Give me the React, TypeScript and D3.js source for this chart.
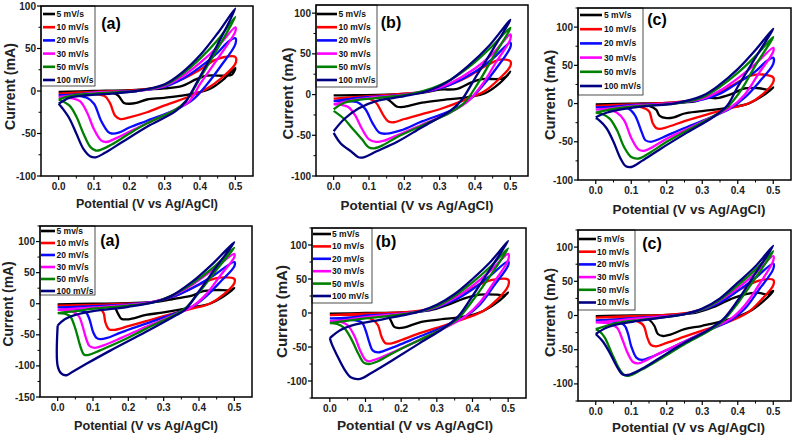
import React from 'react';
import * as d3 from 'd3';

type Pt = [number, number];

// ---------- labels ----------
const legendStd = ['5 mV/s', '10 mV/s', '20 mV/s', '30 mV/s', '50 mV/s', '100 mV/s'];
const legendA2 = ['5 mv/s', '10 mV/s', '20 mV/s', '30 mV/s', '50 mV/s', '100 mV/s'];
const legendC2 = ['5 mV/s', '10 mV/s', '20 mV/s', '30 mV/s', '50 mV/s', '10 mV/s'];
const panelLetters = ['(a)', '(b)', '(c)', '(a)', '(b)', '(c)'];
const seriesColors = ['#000000', '#ff0000', '#0a0aff', '#ff00ff', '#008000', '#000080'];
const xTicks = [0, 0.1, 0.2, 0.3, 0.4, 0.5];
const yTicksStd = [-100, -50, 0, 50, 100];
const yTicksA2 = [-150, -100, -50, 0, 50, 100];
const xTitle = 'Potential (V vs Ag/AgCl)';
const yTitle = 'Current (mA)';

// ---------- data: closed CV loops (E in V, I in mA) ----------
// Panel top (a)
const topA: Pt[][] = [
  [[0,-1],[0.1,0],[0.2,1],[0.3,3],[0.35,6],[0.39,14],[0.42,18],[0.47,18],[0.49,19],[0.5,27],[0.47,15],[0.43,3],[0.38,-3],[0.3,-8],[0.25,-10],[0.22,-14],[0.2,-15],[0.185,-14],[0.17,-6],[0.16,-3],[0.1,-1],[0,-1]],
  [[0,-3],[0.1,-1],[0.22,1],[0.3,6],[0.35,14],[0.4,25],[0.44,36],[0.47,40],[0.5,40],[0.5,32],[0.46,15],[0.42,3],[0.38,-5],[0.3,-17],[0.25,-25],[0.2,-31],[0.175,-33],[0.16,-29],[0.145,-14],[0.13,-6],[0.08,-3],[0,-3]],
  [[0,-5],[0.05,-4],[0.1,-2],[0.22,0],[0.3,5],[0.35,14],[0.4,28],[0.45,45],[0.48,58],[0.5,62],[0.5,55],[0.46,30],[0.42,8],[0.38,-10],[0.33,-22],[0.25,-35],[0.2,-43],[0.17,-49],[0.15,-50],[0.14,-48],[0.12,-35],[0.1,-15],[0.08,-8],[0.04,-5],[0,-5]],
  [[0,-7],[0.05,-5],[0.1,-2],[0.22,0],[0.3,6],[0.35,17],[0.4,33],[0.45,52],[0.5,75],[0.5,70],[0.45,38],[0.4,8],[0.37,-12],[0.33,-22],[0.25,-38],[0.2,-48],[0.16,-56],[0.135,-60],[0.12,-58],[0.1,-45],[0.08,-25],[0.06,-12],[0.03,-8],[0,-7]],
  [[0,-10],[0.03,-6],[0.1,-3],[0.22,0],[0.3,7],[0.35,20],[0.4,38],[0.45,60],[0.5,87],[0.45,50],[0.4,15],[0.36,-12],[0.33,-22],[0.25,-38],[0.2,-50],[0.15,-63],[0.12,-69],[0.105,-70],[0.09,-66],[0.07,-50],[0.05,-30],[0.03,-17],[0,-10]],
  [[0,-15],[0.03,-8],[0.08,-5],[0.15,-3],[0.22,0],[0.3,8],[0.35,22],[0.4,42],[0.45,68],[0.5,97],[0.45,55],[0.4,17],[0.36,-12],[0.33,-24],[0.25,-42],[0.18,-60],[0.13,-73],[0.105,-78],[0.09,-77],[0.07,-68],[0.05,-50],[0.03,-32],[0.01,-20],[0,-15]],
];
// Panel top (b)
const topB: Pt[][] = [
  [[0,-1],[0.15,0],[0.25,2],[0.3,6],[0.35,7],[0.39,15],[0.42,19],[0.48,20],[0.5,28],[0.47,14],[0.43,2],[0.38,-3],[0.3,-7],[0.25,-10],[0.2,-15],[0.18,-15],[0.16,-8],[0.14,-3],[0.1,-1],[0,-1]],
  [[0,-5],[0.1,-2],[0.2,1],[0.28,5],[0.33,12],[0.38,22],[0.43,35],[0.47,43],[0.5,41],[0.5,35],[0.47,20],[0.43,5],[0.38,-5],[0.3,-18],[0.25,-24],[0.2,-30],[0.17,-34],[0.155,-33],[0.14,-25],[0.12,-10],[0.1,-5],[0.05,-5],[0,-5]],
  [[0,-8],[0.05,-5],[0.1,-3],[0.2,0],[0.28,5],[0.33,12],[0.4,28],[0.45,44],[0.5,64],[0.5,58],[0.46,32],[0.42,10],[0.38,-8],[0.33,-20],[0.25,-33],[0.19,-44],[0.15,-48],[0.13,-47],[0.11,-35],[0.09,-18],[0.07,-10],[0.03,-8],[0,-8]],
  [[0,-12],[0.05,-7],[0.1,-4],[0.2,0],[0.28,6],[0.33,14],[0.4,32],[0.45,50],[0.5,74],[0.5,68],[0.46,40],[0.42,12],[0.38,-8],[0.33,-22],[0.25,-37],[0.18,-50],[0.14,-57],[0.12,-58],[0.1,-55],[0.08,-42],[0.06,-25],[0.04,-15],[0,-12]],
  [[0,-18],[0.03,-10],[0.08,-6],[0.15,-3],[0.22,1],[0.28,8],[0.33,18],[0.4,40],[0.45,60],[0.5,82],[0.45,45],[0.41,15],[0.37,-10],[0.33,-22],[0.25,-38],[0.18,-52],[0.14,-62],[0.115,-66],[0.1,-65],[0.08,-55],[0.05,-40],[0.03,-30],[0,-20]],
  [[0,-45],[0.03,-30],[0.07,-17],[0.12,-8],[0.2,-2],[0.27,5],[0.32,15],[0.38,35],[0.44,60],[0.5,92],[0.45,55],[0.4,20],[0.36,-8],[0.33,-20],[0.25,-40],[0.18,-58],[0.12,-70],[0.085,-77],[0.07,-77],[0.05,-70],[0.02,-60],[0,-47]],
];
// Panel top (c)
const topC: Pt[][] = [
  [[0,-1],[0.1,0],[0.2,1],[0.28,3],[0.31,8],[0.34,7],[0.38,12],[0.42,20],[0.46,20],[0.49,18],[0.5,21],[0.47,10],[0.43,0],[0.38,-5],[0.3,-10],[0.25,-13],[0.22,-18],[0.2,-19],[0.18,-16],[0.17,-8],[0.15,-3],[0.1,-1],[0,-1]],
  [[0,-3],[0.1,-1],[0.2,1],[0.3,6],[0.35,15],[0.4,28],[0.44,37],[0.47,38],[0.5,34],[0.5,28],[0.47,12],[0.43,0],[0.38,-6],[0.3,-16],[0.25,-23],[0.2,-31],[0.18,-33],[0.17,-32],[0.16,-25],[0.15,-10],[0.13,-5],[0.08,-3],[0,-3]],
  [[0,-5],[0.05,-4],[0.1,-2],[0.2,0],[0.3,5],[0.35,13],[0.4,27],[0.45,42],[0.48,55],[0.5,60],[0.5,52],[0.46,28],[0.42,8],[0.38,-6],[0.33,-17],[0.25,-32],[0.2,-42],[0.17,-48],[0.155,-50],[0.14,-48],[0.13,-38],[0.11,-15],[0.09,-6],[0.05,-5],[0,-5]],
  [[0,-8],[0.05,-6],[0.1,-3],[0.2,0],[0.3,6],[0.35,17],[0.4,33],[0.45,52],[0.5,73],[0.5,68],[0.46,40],[0.42,12],[0.38,-5],[0.33,-17],[0.25,-35],[0.2,-46],[0.16,-57],[0.135,-62],[0.12,-60],[0.1,-45],[0.08,-22],[0.06,-12],[0.03,-8],[0,-8]],
  [[0,-12],[0.05,-7],[0.1,-4],[0.2,-1],[0.25,2],[0.3,8],[0.35,22],[0.4,40],[0.45,62],[0.5,87],[0.45,50],[0.41,18],[0.37,-5],[0.33,-17],[0.25,-37],[0.2,-50],[0.15,-65],[0.12,-72],[0.1,-70],[0.08,-57],[0.06,-35],[0.04,-20],[0.02,-14],[0,-12]],
  [[0,-18],[0.03,-12],[0.08,-7],[0.15,-3],[0.22,0],[0.3,10],[0.35,25],[0.4,45],[0.45,70],[0.5,98],[0.45,60],[0.4,22],[0.37,-3],[0.33,-18],[0.25,-40],[0.18,-60],[0.13,-75],[0.1,-83],[0.085,-82],[0.07,-72],[0.05,-50],[0.03,-32],[0.01,-22],[0,-19]],
];
// Panel bottom (a)
const botA: Pt[][] = [
  [[0,-1],[0.1,0],[0.2,1],[0.28,3],[0.33,8],[0.38,13],[0.41,20],[0.45,22],[0.49,22],[0.5,25],[0.47,12],[0.43,0],[0.38,-6],[0.3,-14],[0.25,-18],[0.2,-25],[0.18,-24],[0.17,-15],[0.16,-5],[0.14,-2],[0.1,-1],[0,-1]],
  [[0,-3],[0.1,-2],[0.2,0],[0.27,3],[0.33,12],[0.38,25],[0.43,38],[0.46,42],[0.5,40],[0.5,33],[0.47,15],[0.43,0],[0.38,-8],[0.3,-20],[0.25,-28],[0.2,-36],[0.16,-42],[0.145,-41],[0.135,-30],[0.13,-15],[0.12,-8],[0.08,-4],[0,-3]],
  [[0,-6],[0.05,-5],[0.1,-4],[0.2,-1],[0.27,3],[0.33,12],[0.38,25],[0.44,45],[0.5,67],[0.5,60],[0.46,35],[0.42,12],[0.38,-5],[0.33,-16],[0.25,-32],[0.18,-46],[0.14,-55],[0.12,-57],[0.11,-55],[0.1,-45],[0.09,-25],[0.08,-14],[0.06,-10],[0.03,-7],[0,-6]],
  [[0,-10],[0.05,-8],[0.1,-6],[0.2,-2],[0.27,3],[0.33,14],[0.38,30],[0.44,55],[0.5,80],[0.5,75],[0.46,45],[0.42,15],[0.38,-5],[0.33,-18],[0.25,-37],[0.18,-55],[0.13,-67],[0.105,-71],[0.09,-68],[0.08,-55],[0.07,-35],[0.06,-20],[0.04,-12],[0,-10]],
  [[0,-15],[0.05,-12],[0.1,-8],[0.2,-3],[0.27,2],[0.33,15],[0.38,32],[0.44,58],[0.5,90],[0.45,55],[0.4,18],[0.36,-8],[0.33,-18],[0.25,-40],[0.18,-60],[0.12,-75],[0.09,-82],[0.075,-82],[0.065,-70],[0.05,-40],[0.035,-20],[0.02,-16],[0,-15]],
  [[0,-35],[0.02,-25],[0.05,-18],[0.1,-12],[0.2,-5],[0.27,2],[0.32,12],[0.38,35],[0.44,65],[0.5,99],[0.45,60],[0.4,20],[0.36,-10],[0.33,-20],[0.25,-45],[0.15,-75],[0.08,-97],[0.04,-110],[0.025,-115],[0.01,-112],[0,-100],[0,-35]],
];
// Panel bottom (b)
const botB: Pt[][] = [
  [[0,-1],[0.1,0],[0.2,1],[0.28,4],[0.33,12],[0.38,22],[0.42,27],[0.47,27],[0.49,26],[0.5,30],[0.47,16],[0.43,3],[0.38,-5],[0.3,-10],[0.25,-14],[0.21,-21],[0.19,-22],[0.18,-20],[0.17,-10],[0.16,-3],[0.1,-1],[0,-1]],
  [[0,-3],[0.1,-1],[0.2,1],[0.27,5],[0.32,14],[0.37,28],[0.42,42],[0.46,49],[0.5,49],[0.5,40],[0.47,20],[0.43,3],[0.38,-8],[0.3,-22],[0.25,-30],[0.2,-40],[0.17,-45],[0.155,-44],[0.145,-35],[0.135,-18],[0.12,-10],[0.08,-4],[0,-3]],
  [[0,-8],[0.05,-7],[0.1,-4],[0.2,-1],[0.25,2],[0.3,8],[0.35,19],[0.4,35],[0.45,55],[0.5,76],[0.5,70],[0.46,40],[0.42,12],[0.38,-5],[0.33,-18],[0.25,-35],[0.19,-48],[0.15,-56],[0.135,-58],[0.12,-55],[0.11,-42],[0.1,-25],[0.09,-14],[0.06,-10],[0,-8]],
  [[0,-12],[0.05,-10],[0.1,-6],[0.2,-1],[0.25,2],[0.3,9],[0.35,22],[0.4,40],[0.45,62],[0.5,87],[0.5,78],[0.46,45],[0.42,15],[0.38,-5],[0.33,-20],[0.25,-40],[0.18,-57],[0.13,-68],[0.11,-71],[0.1,-69],[0.085,-55],[0.07,-35],[0.05,-18],[0.03,-13],[0,-12]],
  [[0,-15],[0.04,-12],[0.1,-8],[0.2,-2],[0.25,2],[0.3,10],[0.35,25],[0.4,45],[0.45,68],[0.5,95],[0.45,55],[0.4,18],[0.36,-8],[0.32,-22],[0.25,-40],[0.18,-58],[0.13,-72],[0.11,-75],[0.095,-73],[0.08,-60],[0.06,-38],[0.04,-22],[0.02,-16],[0,-15]],
  [[0,-37],[0.03,-25],[0.07,-17],[0.12,-12],[0.2,-4],[0.25,2],[0.3,12],[0.35,28],[0.4,50],[0.45,75],[0.5,106],[0.45,65],[0.4,25],[0.36,-5],[0.32,-22],[0.25,-45],[0.18,-68],[0.12,-87],[0.085,-97],[0.06,-95],[0.04,-82],[0.02,-62],[0.005,-45],[0,-37]],
];
// Panel bottom (c)
const botC: Pt[][] = [
  [[0,-1],[0.1,0],[0.2,1],[0.28,4],[0.33,12],[0.38,24],[0.42,31],[0.46,33],[0.48,31],[0.5,36],[0.47,20],[0.43,5],[0.38,-5],[0.3,-15],[0.25,-20],[0.21,-28],[0.19,-30],[0.175,-27],[0.165,-15],[0.15,-6],[0.12,-2],[0,-1]],
  [[0,-3],[0.1,-1],[0.2,1],[0.27,5],[0.32,13],[0.37,27],[0.42,42],[0.46,51],[0.5,52],[0.5,44],[0.47,25],[0.43,5],[0.38,-8],[0.3,-22],[0.25,-31],[0.2,-40],[0.17,-45],[0.155,-43],[0.145,-32],[0.135,-15],[0.12,-9],[0.08,-4],[0,-3]],
  [[0,-7],[0.05,-6],[0.1,-4],[0.2,-1],[0.25,2],[0.3,8],[0.35,19],[0.4,36],[0.45,55],[0.5,76],[0.5,68],[0.46,38],[0.42,10],[0.38,-7],[0.33,-19],[0.25,-38],[0.19,-53],[0.15,-62],[0.13,-65],[0.115,-62],[0.1,-45],[0.09,-25],[0.08,-14],[0.05,-9],[0,-7]],
  [[0,-10],[0.05,-8],[0.1,-5],[0.2,-1],[0.25,2],[0.3,9],[0.35,22],[0.4,40],[0.45,62],[0.5,87],[0.5,80],[0.46,45],[0.42,15],[0.38,-5],[0.33,-18],[0.25,-38],[0.18,-55],[0.14,-66],[0.12,-70],[0.105,-68],[0.09,-55],[0.075,-35],[0.06,-18],[0.04,-12],[0,-10]],
  [[0,-20],[0.03,-15],[0.07,-10],[0.12,-7],[0.2,-2],[0.25,2],[0.3,9],[0.35,23],[0.4,44],[0.45,67],[0.5,94],[0.45,55],[0.4,18],[0.36,-7],[0.32,-22],[0.25,-42],[0.18,-64],[0.13,-79],[0.095,-88],[0.08,-87],[0.065,-77],[0.045,-55],[0.025,-32],[0.01,-23],[0,-20]],
  [[0,-27],[0.03,-18],[0.07,-12],[0.12,-8],[0.2,-2],[0.25,2],[0.3,10],[0.35,25],[0.4,48],[0.45,72],[0.5,102],[0.45,62],[0.4,22],[0.36,-5],[0.32,-20],[0.25,-40],[0.18,-62],[0.13,-78],[0.09,-87],[0.075,-86],[0.06,-75],[0.04,-55],[0.02,-38],[0,-27]],
];

const panelData = [topA, topB, topC, botA, botB, botC];
const panelLegends = [legendStd, legendStd, legendStd, legendA2, legendStd, legendC2];
const panelYTicks = [yTicksStd, yTicksStd, yTicksStd, yTicksA2, yTicksStd, yTicksStd];
const panelYDomains: [number, number][] = [[-100, 100], [-100, 110], [-100, 125], [-150, 125], [-125, 125], [-125, 125]];

// ---------- layout (pixels) ----------
const layouts = [
  { l: 41, r: 253, t: 6, b: 176, lg: { x1: 95, y1: 86, s0: 43, s1: 55, tx: 56.5, y0: 14, dy: 13.2 }, let: [111, 23],
    xt: { cx: 147, cy: 203, len: 142 }, yt: { cx: 10, cy: 86.5, len: 87 } },
  { l: 316, r: 528, t: 5, b: 176, lg: { x1: 377, y1: 87, s0: 317, s1: 337, tx: 338.5, y0: 14, dy: 13.2 }, let: [391, 22],
    xt: { cx: 417, cy: 205, len: 153 }, yt: { cx: 288, cy: 93.5, len: 92 } },
  { l: 578, r: 791, t: 8, b: 180, lg: { x1: 643, y1: 95, s0: 580, s1: 602, tx: 604, y0: 15, dy: 14.2 }, let: [657, 19.5],
    xt: { cx: 689, cy: 209, len: 153 }, yt: { cx: 550, cy: 95, len: 90 } },
  { l: 40, r: 252, t: 226, b: 397, lg: { x1: 95, y1: 295, s0: 41, s1: 55, tx: 56.5, y0: 231, dy: 12 }, let: [110, 240],
    xt: { cx: 146, cy: 425, len: 144 }, yt: { cx: 8.5, cy: 304, len: 85 } },
  { l: 312, r: 526, t: 228, b: 398, lg: { x1: 372, y1: 303, s0: 313, s1: 331, tx: 332, y0: 234, dy: 12.4 }, let: [386, 241.5],
    xt: { cx: 415, cy: 425, len: 156 }, yt: { cx: 282, cy: 311.5, len: 93 } },
  { l: 578, r: 791, t: 230, b: 401, lg: { x1: 635, y1: 310, s0: 579, s1: 596, tx: 597, y0: 239, dy: 12.7 }, let: [652, 243],
    xt: { cx: 688.5, cy: 427, len: 153 }, yt: { cx: 550, cy: 312.5, len: 89 } },
];

const FONT = "'Liberation Sans', Arial, sans-serif";

function Panel({ idx }: { idx: number }) {
  const L = layouts[idx];
  const x = d3.scaleLinear().domain([-0.05, 0.55]).range([L.l, L.r]);
  const y = d3.scaleLinear().domain(panelYDomains[idx]).range([L.b, L.t]);
  const line = d3.line<Pt>().x(d => x(d[0])).y(d => y(d[1])).curve(d3.curveCatmullRom.alpha(0.5));
  const yt = panelYTicks[idx];
  const [y0, y1] = panelYDomains[idx];
  const yMinor = d3.range(Math.ceil(y0 / 25) * 25, y1 + 0.01, 25).filter(v => v % 50 !== 0);
  const xMinor = d3.range(0.05, 0.55, 0.1);
  const legend = panelLegends[idx];
  return (
    <g>
      <clipPath id={`clip${idx}`}>
        <rect x={L.l} y={L.t} width={L.r - L.l} height={L.b - L.t} />
      </clipPath>
      <g clipPath={`url(#clip${idx})`}>
        {panelData[idx].map((pts, i) => (
          <path key={i} d={line(pts) || ''} fill="none" stroke={seriesColors[i]} strokeWidth={2.3} strokeLinejoin="round" />
        ))}
      </g>
      {/* legend */}
      <rect x={L.l} y={L.t} width={L.lg.x1 - L.l} height={L.lg.y1 - L.t} fill="white" stroke="#222" strokeWidth={0.8} />
      {legend.map((s, i) => (
        <g key={i}>
          <line x1={L.lg.s0} x2={L.lg.s1} y1={L.lg.y0 + i * L.lg.dy} y2={L.lg.y0 + i * L.lg.dy} stroke={seriesColors[i]} strokeWidth={2.6} />
          <text x={L.lg.tx} y={L.lg.y0 + i * L.lg.dy} dy="0.35em" fontSize={8.5} fontWeight="bold" fontFamily={FONT} fill="#111">{s}</text>
        </g>
      ))}
      <text x={L.let[0]} y={L.let[1]} dy="0.35em" textAnchor="middle" fontSize={16} fontWeight="bold" fontFamily={FONT}>{panelLetters[idx]}</text>
      {/* frame */}
      <rect x={L.l} y={L.t} width={L.r - L.l} height={L.b - L.t} fill="none" stroke="#000" strokeWidth={1.5} />
      {/* x ticks */}
      {xTicks.map(v => (
        <g key={v}>
          <line x1={x(v)} x2={x(v)} y1={L.b} y2={L.b + 4} stroke="#000" strokeWidth={1.2} />
          <text x={x(v)} y={L.b + 10.5} dy="0.35em" textAnchor="middle" fontSize={10} fontWeight="bold" fontFamily={FONT} fill="#222">{d3.format('.1f')(v)}</text>
        </g>
      ))}
      {xMinor.map(v => (
        <line key={v} x1={x(v)} x2={x(v)} y1={L.b} y2={L.b + 2.5} stroke="#000" strokeWidth={1} />
      ))}
      {/* y ticks */}
      {yt.map(v => (
        <g key={v}>
          <line x1={L.l - 4} x2={L.l} y1={y(v)} y2={y(v)} stroke="#000" strokeWidth={1.2} />
          <text x={L.l - 5} y={y(v)} dy="0.35em" textAnchor="end" fontSize={10} fontWeight="bold" fontFamily={FONT} fill="#222">{v}</text>
        </g>
      ))}
      {yMinor.map(v => (
        <line key={v} x1={L.l - 2.5} x2={L.l} y1={y(v)} y2={y(v)} stroke="#000" strokeWidth={1} />
      ))}
      {/* titles */}
      <text x={L.xt.cx} y={L.xt.cy} dy="0.35em" textAnchor="middle" fontSize={13.5} fontWeight="bold" fontFamily={FONT} fill="#222"
        textLength={L.xt.len} lengthAdjust="spacingAndGlyphs">{xTitle}</text>
      <text transform={`translate(${L.yt.cx},${L.yt.cy}) rotate(-90)`} dy="0.35em" textAnchor="middle" fontSize={14} fontWeight="bold" fontFamily={FONT} fill="#222"
        textLength={L.yt.len} lengthAdjust="spacingAndGlyphs">{yTitle}</text>
    </g>
  );
}

export default function App() {
  return (
    <svg width={794} height={436} style={{ position: 'absolute', left: 0, top: 0, background: 'white' }}>
      <rect width={794} height={436} fill="white" />
      {panelData.map((_, i) => <Panel key={i} idx={i} />)}
    </svg>
  );
}
